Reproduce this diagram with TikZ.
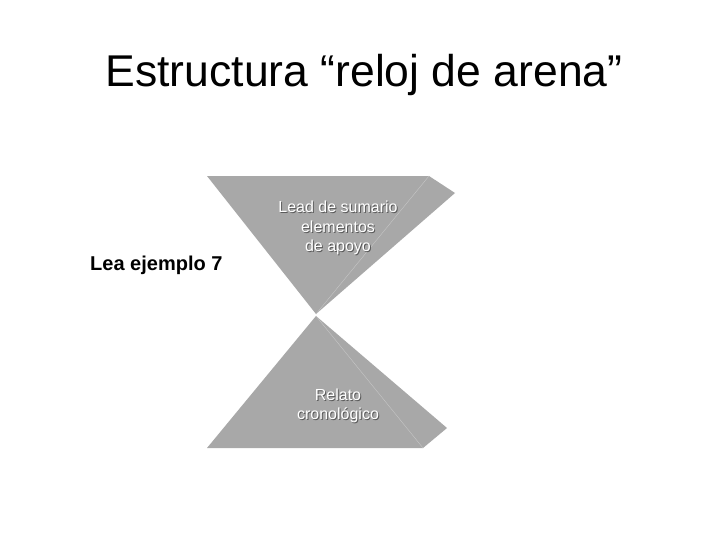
\documentclass[tikz,border=0pt]{standalone}
\usepackage{fontspec}
\setmainfont{Liberation Sans}
\begin{document}
\begin{tikzpicture}[x=1pt,y=-1pt,
  face/.style={fill=pyrgray,draw=none},
  edge/.style={draw=pyrline,line width=0.4pt},
  shadowtext/.style={text=white,font=\fontsize{16}{19.5}\selectfont,align=center,inner sep=0pt},
  shade/.style={text=shadegray,font=\fontsize{16}{19.5}\selectfont,align=center,inner sep=0pt}]
\definecolor{pyrgray}{HTML}{A8A8A8}
\definecolor{pyrline}{HTML}{C6C6C6}
\definecolor{shadegray}{HTML}{5A5A5A}
\useasboundingbox (0,0) rectangle (728,546);
\fill[white] (0,0) rectangle (728,546);
% title
\node[font=\fontsize{44.5}{50}\selectfont,inner sep=0pt,anchor=base] (title) at (364,86) {Estructura “reloj de arena”};
\node[font=\bfseries\fontsize{20}{24}\selectfont,inner sep=0pt,anchor=base west] (lea) at (90,270) {Lea ejemplo 7};
% top inverted pyramid
\coordinate (tl) at (207,176);
\coordinate (tr) at (429,176);
\coordinate (tf) at (455,193);
\coordinate (ta) at (316,314);
\fill[face] (tl) -- (tr) -- (tf) -- (ta) -- cycle;
\draw[edge] (tr) -- (ta);
% bottom pyramid
\coordinate (ba) at (316,316);
\coordinate (bl) at (207,448);
\coordinate (br) at (423,448);
\coordinate (bf) at (447,428);
\fill[face] (ba) -- (bf) -- (br) -- (bl) -- cycle;
\draw[edge] (ba) -- (br);
% labels
\node[shade] (t1s) at (339,229) {Lead de sumario\\elementos\\de apoyo};
\node[shadowtext] (t1) at (338,228) {Lead de sumario\\elementos\\de apoyo};
\node[shade] (t2s) at (339,407) {Relato\\cronológico};
\node[shadowtext] (t2) at (338,406) {Relato\\cronológico};
\end{tikzpicture}
\end{document}
